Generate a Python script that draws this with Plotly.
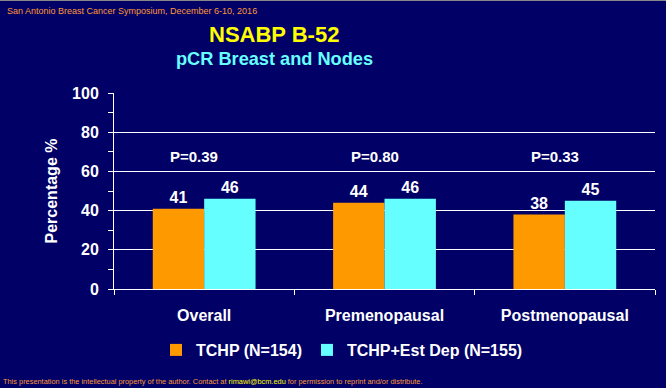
import plotly.graph_objects as go

categories = ["Overall", "Premenopausal", "Postmenopausal"]
tchp = [41, 44, 38]
tchp_est = [46, 46, 45]
p_values = ["P=0.39", "P=0.80", "P=0.33"]
series_names = ["TCHP (N=154)", "TCHP+Est Dep (N=155)"]
y_ticks = [0, 20, 40, 60, 80, 100]

W, H = 666, 388
L, R, T, B = 114, 11, 93, 99
BG = "#000066"
FONT = "Liberation Sans, Arial, sans-serif"

def px_x(x):
    return (x - L) / (W - L - R)

def px_y(y):
    return (H - B - y) / (H - T - B)

fig = go.Figure()
fig.add_trace(go.Bar(
    x=categories, y=tchp, name=series_names[0],
    marker=dict(color="#FF9900", line=dict(width=0)),
    text=tchp, textposition="outside", cliponaxis=False,
    textfont=dict(color="white", size=16, family=FONT, weight="bold"),
))
fig.add_trace(go.Bar(
    x=categories, y=tchp_est, name=series_names[1],
    marker=dict(color="#66FFFF", line=dict(width=0)),
    text=tchp_est, textposition="outside", cliponaxis=False,
    textfont=dict(color="white", size=16, family=FONT, weight="bold"),
))

annotations = []
for c, p in zip(categories, p_values):
    annotations.append(dict(
        x=c, y=67.4, xref="x", yref="y", text=p, showarrow=False,
        xshift=-10, font=dict(color="white", size=15, family=FONT, weight="bold"),
    ))

annotations += [
    dict(x=px_x(274), y=px_y(34), xref="paper", yref="paper", text="<b>NSABP B-52</b>",
         showarrow=False, xanchor="center", yanchor="middle",
         font=dict(color="#FFFF00", size=22, family=FONT)),
    dict(x=px_x(274), y=px_y(59), xref="paper", yref="paper", text="<b>pCR Breast and Nodes</b>",
         showarrow=False, xanchor="center", yanchor="middle",
         font=dict(color="#66FFFF", size=18.2, family=FONT)),
    dict(x=px_x(5), y=px_y(11), xref="paper", yref="paper",
         text="San Antonio Breast Cancer Symposium, December 6-10, 2016",
         showarrow=False, xanchor="left", yanchor="middle",
         font=dict(color="#FF9933", size=9, family=FONT)),
    dict(x=px_x(1), y=px_y(381), xref="paper", yref="paper",
         text="This presentation is the intellectual property of the author. Contact at "
              "<span style='color:#FFFF00'>rimawi@bcm.edu</span> for permission to reprint and/or distribute.",
         showarrow=False, xanchor="left", yanchor="middle",
         font=dict(color="#FF9933", size=7.4, family=FONT)),
]

fig.update_layout(
    width=W, height=H,
    margin=dict(l=L, r=R, t=T, b=B, autoexpand=False),
    paper_bgcolor=BG, plot_bgcolor=BG,
    barmode="group", bargap=0.43, bargroupgap=0,
    font=dict(family=FONT, color="white"),
    showlegend=True,
    legend=dict(
        orientation="h", x=px_x(156), y=px_y(333), xanchor="left", yanchor="top",
        font=dict(color="white", size=16, family=FONT, weight="bold"),
        bgcolor="rgba(0,0,0,0)", itemwidth=30,
    ),
    annotations=annotations,
    xaxis=dict(
        showgrid=False, showline=True, linecolor="white", linewidth=1,
        ticks="outside", tickson="boundaries", ticklen=5, tickcolor="white",
        ticklabelstandoff=12,
        tickfont=dict(color="white", size=16, family=FONT, weight="bold"),
    ),
    yaxis=dict(
        range=[0, 100], tickvals=y_ticks, showgrid=True, gridcolor="white", gridwidth=1,
        showline=True, linecolor="white", linewidth=1,
        ticks="outside", ticklen=5, tickcolor="white", ticklabelstandoff=6,
        minor=dict(ticks="outside", ticklen=5, tickcolor="white", dtick=10, showgrid=False),
        tickfont=dict(color="white", size=16, family=FONT, weight="bold"),
        title=dict(text="Percentage %", standoff=10,
                   font=dict(color="white", size=16, family=FONT, weight="bold")),
        zeroline=False,
    ),
    shapes=[dict(type="line", xref="paper", yref="paper", x0=px_x(0), x1=px_x(W),
                 y0=px_y(0.5), y1=px_y(0.5), line=dict(color="#888888", width=1))],
)

fig.write_html(
    "out.html",
    config={"displayModeBar": False},
    post_script="document.body.style.margin='0';document.body.style.background='#000066';",
)
